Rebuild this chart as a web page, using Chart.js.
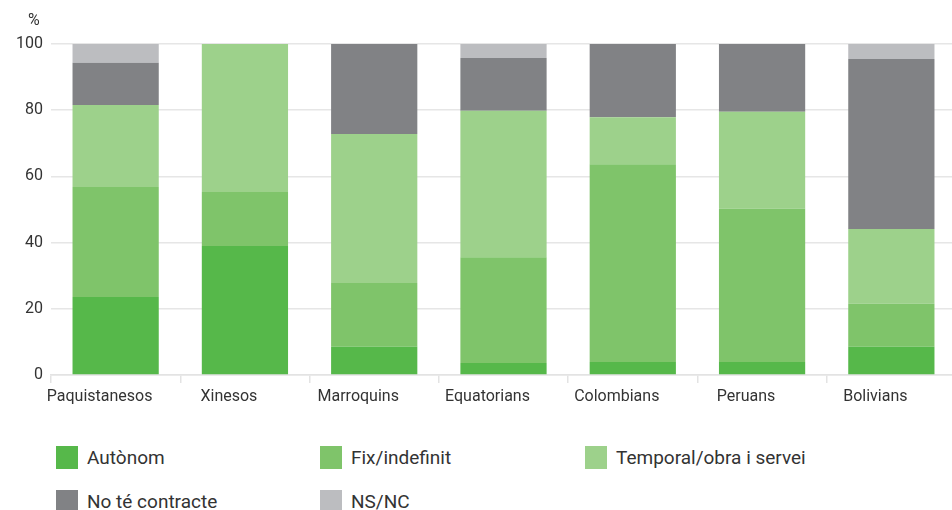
<!DOCTYPE html>
<html lang="ca">
<head>
    <meta charset="UTF-8">
    <title>Tipus de contracte per nacionalitat</title>
    <script src="https://cdn.jsdelivr.net/npm/chart.js"></script>
    <style>
        body, html {
            margin: 0;
            padding: 0;
            background: #ffffff;
            font-family: 'Roboto', sans-serif;
            color: #333333;
            overflow: hidden;
        }
        .wrap {
            position: relative;
            width: 952px;
            height: 510px;
            overflow: hidden;
        }
        .chart-box {
            position: absolute;
            left: 0;
            top: 0;
            width: 956px;
            height: 410px;
        }
        .unit {
            position: absolute;
            left: 28px;
            top: 10px;
            font-size: 16px;
            color: #333;
        }
        .legend {
            position: absolute;
            left: 56px;
            top: 446px;
            display: grid;
            grid-template-columns: 264px 265px 300px;
            row-gap: 21px;
        }
        .legend .item {
            display: flex;
            align-items: center;
            height: 23px;
            font-size: 19px;
            color: #333;
        }
        .legend .swatch {
            width: 22px;
            height: 23px;
            margin-right: 9px;
            flex-shrink: 0;
        }
    </style>
</head>
<body>
    <div class="wrap">
        <div class="chart-box">
            <canvas id="contractChart"></canvas>
        </div>
        <div class="unit">%</div>
        <div class="legend" id="legend"></div>
    </div>

    <script>
        // categories (x axis)
        const categories = ['Paquistanesos', 'Xinesos', 'Marroquins', 'Equatorians', 'Colombians', 'Peruans', 'Bolivians'];
        const yTicks = [0, 20, 40, 60, 80, 100];

        // series values, % of each group
        const autonom    = [23.6, 39.0,  8.5,  3.6,  3.9,  3.9,  8.5];
        const fixIndef   = [33.2, 16.3, 19.3, 32.0, 59.8, 46.3, 13.0];
        const temporal   = [24.8, 44.7, 45.0, 44.2, 14.2, 29.3, 22.6];
        const noContract = [12.7,  0.0, 27.2, 16.0, 22.1, 20.5, 51.4];
        const nsnc       = [ 5.7,  0.0,  0.0,  4.2,  0.0,  0.0,  4.5];

        const seriesNames = ['Autònom', 'Fix/indefinit', 'Temporal/obra i servei', 'No té contracte', 'NS/NC'];
        const seriesData = [autonom, fixIndef, temporal, noContract, nsnc];
        const seriesColors = ['#56b84a', '#7fc46a', '#9dd18b', '#818285', '#bcbdc0'];

        const ctx = document.getElementById('contractChart').getContext('2d');

        const contractChart = new Chart(ctx, {
            type: 'bar',
            data: {
                labels: categories,
                datasets: seriesNames.map((name, i) => ({
                    label: name,
                    data: seriesData[i],
                    backgroundColor: seriesColors[i],
                    borderWidth: 0,
                    categoryPercentage: 0.667,
                    barPercentage: 1.0
                }))
            },
            options: {
                responsive: true,
                maintainAspectRatio: false,
                animation: false,
                layout: {
                    padding: { top: 44, right: 0, bottom: 5, left: 0 }
                },
                plugins: {
                    legend: { display: false },
                    tooltip: { enabled: false }
                },
                scales: {
                    x: {
                        stacked: true,
                        offset: true,
                        grid: {
                            display: true,
                            drawOnChartArea: false,
                            offset: true,
                            tickLength: 8,
                            color: '#e3e3e3',
                            lineWidth: 1.5
                        },
                        border: { display: true, color: '#e3e3e3', width: 1.5 },
                        ticks: {
                            color: '#333',
                            font: { family: 'Roboto', size: 16 },
                            padding: 4,
                            labelOffset: -16,
                            maxRotation: 0
                        },
                        afterFit: scale => { scale.height = 30; }
                    },
                    y: {
                        stacked: true,
                        min: 0,
                        max: 100,
                        afterBuildTicks: scale => {
                            scale.ticks = yTicks.map(v => ({ value: v }));
                        },
                        grid: {
                            color: '#e6e6e6',
                            lineWidth: 1.5,
                            drawTicks: false
                        },
                        border: { display: false },
                        ticks: {
                            color: '#333',
                            font: { family: 'Roboto', size: 16 },
                            padding: 8
                        },
                        afterFit: scale => { scale.width = 51; }
                    }
                }
            }
        });

        // html legend, three columns
        const legendEl = document.getElementById('legend');
        seriesNames.forEach((name, i) => {
            const item = document.createElement('div');
            item.className = 'item';
            item.innerHTML = `<span class="swatch" style="background:${seriesColors[i]}"></span><span>${name}</span>`;
            legendEl.appendChild(item);
        });
    </script>
</body>
</html>
